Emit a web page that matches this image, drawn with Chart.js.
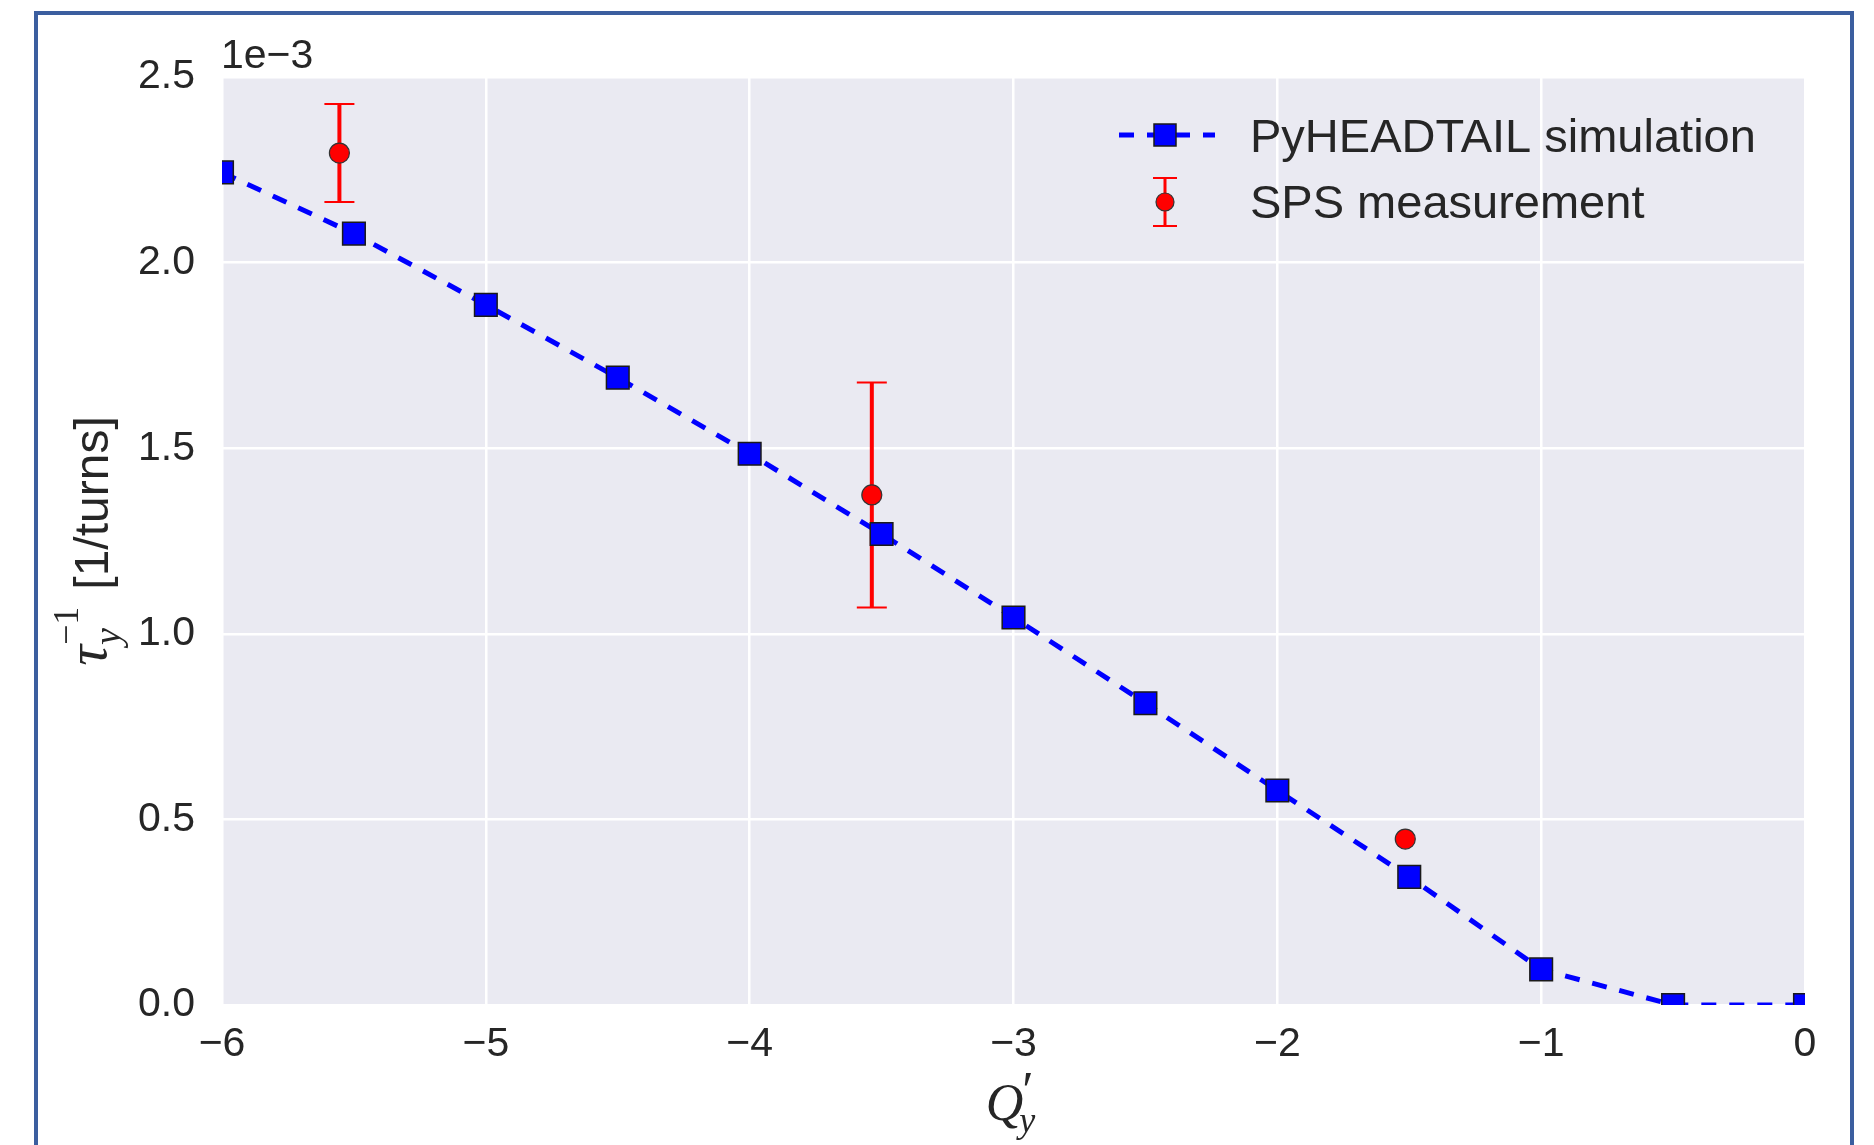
<!DOCTYPE html>
<html>
<head>
<meta charset="utf-8">
<script src="https://cdn.jsdelivr.net/npm/chart.js@4.4.1/dist/chart.umd.min.js"></script>
<style>
  html, body { margin: 0; padding: 0; background: #fff; overflow: hidden; }
  #wrap { position: relative; width: 1874px; height: 1145px; }
  #frame { position: absolute; left: 34px; top: 11px; width: 1812px; height: 1200px;
           border: 4px solid #3b5e9f; pointer-events: none; }
</style>
</head>
<body>
<div id="wrap">
  <canvas id="myChart" width="1874" height="1145"></canvas>
  <div id="frame"></div>
</div>
<script>
// simulation (PyHEADTAIL), values in units of 1e-3
var simQ = [-6, -5.5, -5, -4.5, -4, -3.5, -3, -2.5, -2, -1.5, -1, -0.5, 0];
var simRate = [2.243, 2.078, 1.886, 1.690, 1.485, 1.269, 1.044, 0.813, 0.578, 0.345, 0.096, 0.0, 0.0];

// SPS measurement with error bars
var measQ = [-5.555, -3.537, -1.515];
var measRate = [2.295, 1.374, 0.447];
var measErr = [0.132, 0.303, 0.0];

var xTicks = [-6, -5, -4, -3, -2, -1, 0];
var yTicks = [0.0, 0.5, 1.0, 1.5, 2.0, 2.5];

var textColor = "#262626";
var sans = "'Liberation Sans', Arial, sans-serif";
var serif = "'Liberation Serif', 'Times New Roman', serif";

var plotBg = {
  id: "plotBg",
  beforeDraw: function (chart) {
    var a = chart.chartArea, c = chart.ctx;
    c.save();
    c.fillStyle = "#eaeaf2";
    c.fillRect(a.left, a.top, a.right - a.left, a.bottom - a.top);
    c.restore();
  }
};

function drawErr(c, px, y1, y2, half, lw) {
  c.lineWidth = lw;
  c.beginPath(); c.moveTo(px, y1); c.lineTo(px, y2); c.stroke();
  c.lineWidth = 2;
  c.beginPath();
  c.moveTo(px - half, y1); c.lineTo(px + half, y1);
  c.moveTo(px - half, y2); c.lineTo(px + half, y2);
  c.stroke();
}

var errorBars = {
  id: "errorBars",
  beforeDatasetDraw: function (chart, args) {
    if (args.index !== 1) return;
    var c = chart.ctx, xs = chart.scales.x, ys = chart.scales.y;
    c.save();
    c.strokeStyle = "#ff0000";
    for (var i = 0; i < measQ.length; i++) {
      if (!measErr[i]) continue;
      drawErr(c, xs.getPixelForValue(measQ[i]),
        ys.getPixelForValue(measRate[i] + measErr[i]),
        ys.getPixelForValue(measRate[i] - measErr[i]), 15, 4);
    }
    c.restore();
  }
};

var labels = {
  id: "labels",
  afterDraw: function (chart) {
    var a = chart.chartArea, c = chart.ctx;
    c.save();
    c.fillStyle = textColor;
    c.textBaseline = "alphabetic";

    // offset text
    c.font = "41px " + sans;
    c.textAlign = "left";
    c.fillText("1e\u22123", a.left - 1, a.top - 9);

    // x title: Q'_y
    var cx = (a.left + a.right) / 2;
    c.font = "italic 52px " + serif;
    var qw = c.measureText("Q").width;
    var x0 = cx - (qw + 18) / 2;
    c.fillText("Q", x0, 1120);
    c.font = "52px " + serif;
    c.fillText("\u2032", x0 + qw - 1, 1108);
    c.font = "italic 36px " + serif;
    c.fillText("y", x0 + qw - 4, 1132);

    // y title: tau_y^-1 [1/turns]
    c.translate(90, (a.top + a.bottom) / 2);
    c.rotate(-Math.PI / 2);
    c.font = "italic 58px " + serif;
    var tw = c.measureText("\u03c4").width;
    c.font = "48px " + sans;
    var uw = c.measureText(" [1/turns]").width;
    var total = tw + 42 + uw;
    var sx = -total / 2;
    c.font = "italic 58px " + serif;
    c.fillText("\u03c4", sx, 16);
    c.font = "italic 38px " + serif;
    c.fillText("y", sx + tw, 30);
    c.font = "36px " + serif;
    c.fillText("\u22121", sx + tw, -12);
    c.font = "48px " + sans;
    c.fillText(" [1/turns]", sx + tw + 42, 18);
    c.restore();

    // legend
    c.save();
    var lx = a.right - 686, mx = a.right - 640, tx = a.right - 555;
    var r1 = a.top + 58, r2 = a.top + 125;
    c.strokeStyle = "#0000ff";
    c.lineWidth = 5;
    c.setLineDash([15, 13]);
    c.beginPath(); c.moveTo(lx, r1); c.lineTo(lx + 96, r1); c.stroke();
    c.setLineDash([]);
    c.fillStyle = "#0000ff";
    c.strokeStyle = "#1a1a1a";
    c.lineWidth = 1.5;
    c.fillRect(mx - 11, r1 - 11, 22, 22);
    c.strokeRect(mx - 11, r1 - 11, 22, 22);
    c.strokeStyle = "#ff0000";
    drawErr(c, mx, r2 - 24, r2 + 24, 12, 3);
    c.fillStyle = "#ff0000";
    c.strokeStyle = "#333";
    c.lineWidth = 1.2;
    c.beginPath(); c.arc(mx, r2, 9, 0, Math.PI * 2); c.fill(); c.stroke();
    c.fillStyle = textColor;
    c.font = "47px " + sans;
    c.textAlign = "left";
    c.fillText("PyHEADTAIL simulation", tx, a.top + 75);
    c.fillText("SPS measurement", tx, a.top + 141);
    c.restore();
  }
};

var ctx = document.getElementById("myChart").getContext("2d");
var myChart = new Chart(ctx, {
  type: "scatter",
  data: {
    datasets: [
      {
        label: "PyHEADTAIL simulation",
        data: simQ.map(function (q, i) { return { x: q, y: simRate[i] }; }),
        showLine: true,
        borderColor: "#0000ff",
        borderWidth: 5,
        borderDash: [15, 13],
        tension: 0,
        pointStyle: "rect",
        pointRadius: 16,
        pointBackgroundColor: "#0000ff",
        pointBorderColor: "#1a1a1a",
        pointBorderWidth: 1.5
      },
      {
        label: "SPS measurement",
        data: measQ.map(function (q, i) { return { x: q, y: measRate[i] }; }),
        showLine: false,
        pointStyle: "circle",
        pointRadius: 10,
        pointBackgroundColor: "#ff0000",
        pointBorderColor: "#333333",
        pointBorderWidth: 1.2
      }
    ]
  },
  options: {
    responsive: false,
    animation: false,
    devicePixelRatio: 1,
    layout: { padding: { top: 77, right: 69, left: 0, bottom: 0 } },
    plugins: { legend: { display: false }, tooltip: { enabled: false } },
    scales: {
      x: {
        type: "linear",
        min: xTicks[0],
        max: xTicks[xTicks.length - 1],
        afterBuildTicks: function (s) { s.ticks = xTicks.map(function (v) { return { value: v }; }); },
        afterFit: function (s) { s.height = 140; },
        ticks: {
          color: textColor,
          font: { family: sans, size: 41 },
          padding: 15,
          maxRotation: 0,
          callback: function (v) { return String(v).replace("-", "\u2212"); }
        },
        grid: { color: "#ffffff", lineWidth: 2.5, drawTicks: false },
        border: { display: false }
      },
      y: {
        min: yTicks[0],
        max: yTicks[yTicks.length - 1],
        afterBuildTicks: function (s) { s.ticks = yTicks.map(function (v) { return { value: v }; }); },
        afterFit: function (s) { s.width = 222; },
        ticks: {
          color: textColor,
          font: { family: sans, size: 41 },
          padding: 27,
          callback: function (v) { return Number(v).toFixed(1); }
        },
        grid: { color: "#ffffff", lineWidth: 2.5, drawTicks: false },
        border: { display: false }
      }
    }
  },
  plugins: [plotBg, errorBars, labels]
});
</script>
</body>
</html>
